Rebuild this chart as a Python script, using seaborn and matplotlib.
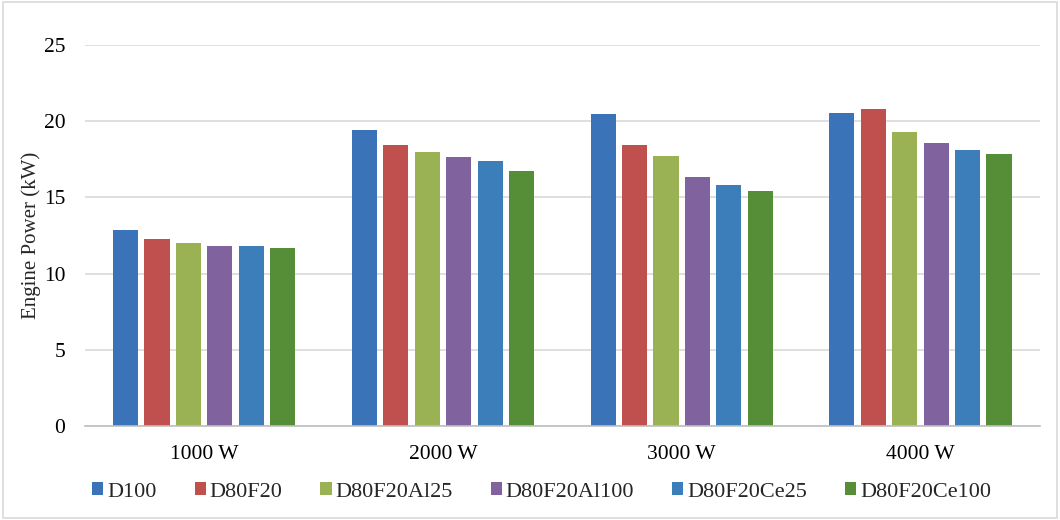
import matplotlib
matplotlib.use("Agg")
import matplotlib.pyplot as plt
import seaborn as sns
import pandas as pd
from matplotlib.patches import Rectangle

loads = ["1000 W", "2000 W", "3000 W", "4000 W"]
fuels = ["D100", "D80F20", "D80F20Al25", "D80F20Al100", "D80F20Ce25", "D80F20Ce100"]
D100 = [12.86, 19.42, 20.47, 20.52]
D80F20 = [12.25, 18.44, 18.42, 20.78]
D80F20Al25 = [12.03, 17.98, 17.70, 19.31]
D80F20Al100 = [11.83, 17.65, 16.34, 18.57]
D80F20Ce25 = [11.81, 17.39, 15.79, 18.13]
D80F20Ce100 = [11.66, 16.75, 15.40, 17.85]
colors = ["#3A73B8", "#C0504D", "#9BB254", "#7F629E", "#3B7EBA", "#568E38"]

series = [D100, D80F20, D80F20Al25, D80F20Al100, D80F20Ce25, D80F20Ce100]
rows = []
for f, vals in zip(fuels, series):
    for l, v in zip(loads, vals):
        rows.append({"Load": l, "Fuel": f, "Power": v})
df = pd.DataFrame(rows)

sns.set_style("white")
plt.rcParams["font.family"] = ["Liberation Serif", "DejaVu Serif"]

fig = plt.figure(figsize=(10.6, 5.2), dpi=100)
ax = fig.add_axes([0.080, 0.181, 0.901, 0.7325])

sns.barplot(data=df, x="Load", y="Power", hue="Fuel", order=loads, hue_order=fuels,
            palette=colors, saturation=1, width=0.79, gap=0.2, ax=ax, errorbar=None,
            edgecolor="none", linewidth=0)

ax.set_ylim(0, 25)
ax.set_yticks([0, 5, 10, 15, 20, 25])
ax.yaxis.grid(True, color="#D9D9D9", linewidth=1.2)
ax.set_axisbelow(True)
for s in ["top", "right", "left"]:
    ax.spines[s].set_visible(False)
ax.spines["bottom"].set_color("#BFBFBF")
ax.spines["bottom"].set_linewidth(1.2)
ax.tick_params(axis="both", length=0, labelsize=15.5, colors="black")
ax.tick_params(axis="y", pad=14)
ax.tick_params(axis="x", pad=14)
ax.set_xlabel("")
ax.set_ylabel("Engine Power (kW)", fontsize=15, labelpad=2)

handles, labels = ax.get_legend_handles_labels()
if ax.get_legend() is not None:
    ax.get_legend().remove()
fig.legend(handles, labels, loc="center", bbox_to_anchor=(0.511, 0.054), ncol=6,
           frameon=False, fontsize=16, handlelength=0.5, handleheight=0.5,
           handletextpad=0.18, columnspacing=1.7, borderaxespad=0, borderpad=0)

fig.patches.append(Rectangle((0.003, 0.003), 0.994, 0.994, transform=fig.transFigure,
                             fill=False, edgecolor="#D9D9D9", linewidth=1.2))

fig.savefig("out.png", dpi=100)
